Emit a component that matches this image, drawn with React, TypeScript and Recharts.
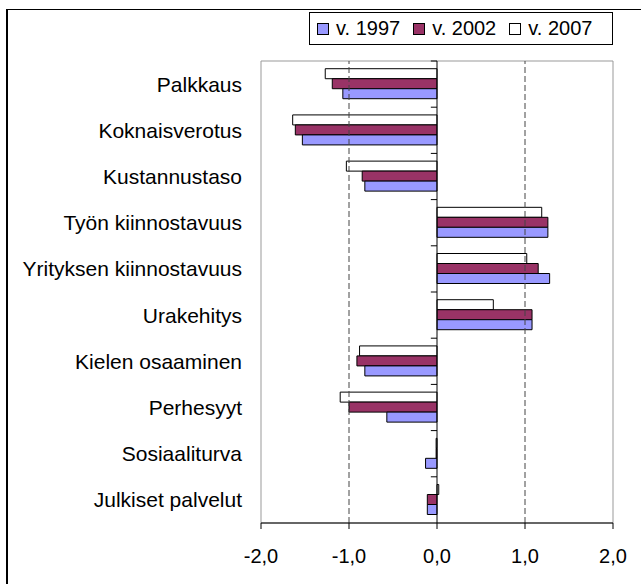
import React from 'react';
import { BarChart, Bar, XAxis, YAxis, Legend, ReferenceLine, ReferenceArea } from 'recharts';

const categories = [
  'Palkkaus',
  'Koknaisverotus',
  'Kustannustaso',
  'Työn kiinnostavuus',
  'Yrityksen kiinnostavuus',
  'Urakehitys',
  'Kielen osaaminen',
  'Perhesyyt',
  'Sosiaaliturva',
  'Julkiset palvelut',
];
const v1997 = [-1.07, -1.53, -0.82, 1.26, 1.28, 1.08, -0.82, -0.57, -0.13, -0.11];
const v2002 = [-1.19, -1.61, -0.85, 1.26, 1.15, 1.08, -0.91, -1.0, -0.01, -0.11];
const v2007 = [-1.27, -1.64, -1.03, 1.19, 1.02, 0.64, -0.88, -1.1, -0.01, 0.02];
const xTicks = [-2, -1, 0, 1, 2];

const data = categories.map((name, i) => ({
  name,
  v1997: v1997[i],
  v2002: v2002[i],
  v2007: v2007[i],
}));

const FONT = '"Liberation Sans", Arial, sans-serif';

const LegendBox = (props: any) => {
  const items = [...(props.payload || [])].sort((a: any, b: any) =>
    String(a.value).localeCompare(String(b.value))
  );
  return (
    <div
      style={{
        border: '1px solid #000',
        background: '#fff',
        height: 31,
        display: 'flex',
        alignItems: 'center',
        paddingLeft: 7,
        fontSize: 20,
        fontFamily: FONT,
        color: '#000',
      }}
    >
      {items.map((it: any) => (
        <span key={it.value} style={{ display: 'flex', alignItems: 'center', marginRight: 13 }}>
          <span
            style={{
              width: 10,
              height: 10,
              border: '1px solid #000',
              background: it.payload?.fill || it.color,
              marginRight: 7,
              display: 'inline-block',
            }}
          />
          {it.value}
        </span>
      ))}
    </div>
  );
};

export default function App() {
  return (
    <div style={{ position: 'absolute', left: 0, top: 0, width: 641, height: 584, overflow: 'hidden', background: '#fff', fontFamily: FONT }}>
      <div
        style={{
          position: 'absolute',
          left: 6,
          top: 9,
          width: 700,
          height: 700,
          borderTop: '1px solid #000',
          borderLeft: '2px solid #000',
        }}
      />
      <BarChart
        width={641}
        height={584}
        data={data}
        layout="vertical"
        margin={{ top: 61, right: 28, bottom: 0, left: 0 }}
        barCategoryGap="16.7%"
        barGap={0}
        style={{ position: 'absolute', left: 0, top: 0 }}
      >
        <ReferenceArea x1={-2} x2={2} fill="none" stroke="#999" strokeWidth={1} />
        <XAxis
          type="number"
          domain={[-2, 2]}
          ticks={xTicks}
          tickFormatter={(v: number) => v.toFixed(1).replace('.', ',')}
          axisLine={{ stroke: '#000' }}
          tickLine={{ stroke: '#000' }}
          tickSize={6}
          tickMargin={20}
          tick={{ fill: '#000', fontSize: 20 }}
          height={61}
          allowDataOverflow
        />
        <YAxis
          type="category"
          dataKey="name"
          width={261}
          axisLine={false}
          tickLine={false}
          tickSize={0}
          tickMargin={19}
          tick={{ fill: '#000', fontSize: 21 }}
          interval={0}
        />
        <ReferenceLine x={-1} stroke="#444" strokeDasharray="6 3" />
        <ReferenceLine x={1} stroke="#444" strokeDasharray="6 3" />
        <Legend
          layout="horizontal"
          verticalAlign="middle"
          align="center"
          content={<LegendBox />}
          wrapperStyle={{ left: 309, top: 12, width: 304, height: 33 }}
        />
        <Bar dataKey="v2007" name="v. 2007" fill="#FFFFFF" stroke="#000" strokeWidth={1} isAnimationActive={false} />
        <Bar dataKey="v2002" name="v. 2002" fill="#993366" stroke="#000" strokeWidth={1} isAnimationActive={false} />
        <Bar dataKey="v1997" name="v. 1997" fill="#9999FF" stroke="#000" strokeWidth={1} isAnimationActive={false} />
        <ReferenceLine x={0} stroke="#000" strokeWidth={1} />
        {/* small category tick marks on the zero axis, at band boundaries */}
        {categories.map((c) => (
          <ReferenceLine
            key={c}
            segment={[{ x: -0.07, y: c }, { x: 0, y: c }]}
            position="start"
            stroke="#000"
            strokeWidth={1}
            ifOverflow="visible"
          />
        ))}
      </BarChart>
    </div>
  );
}
